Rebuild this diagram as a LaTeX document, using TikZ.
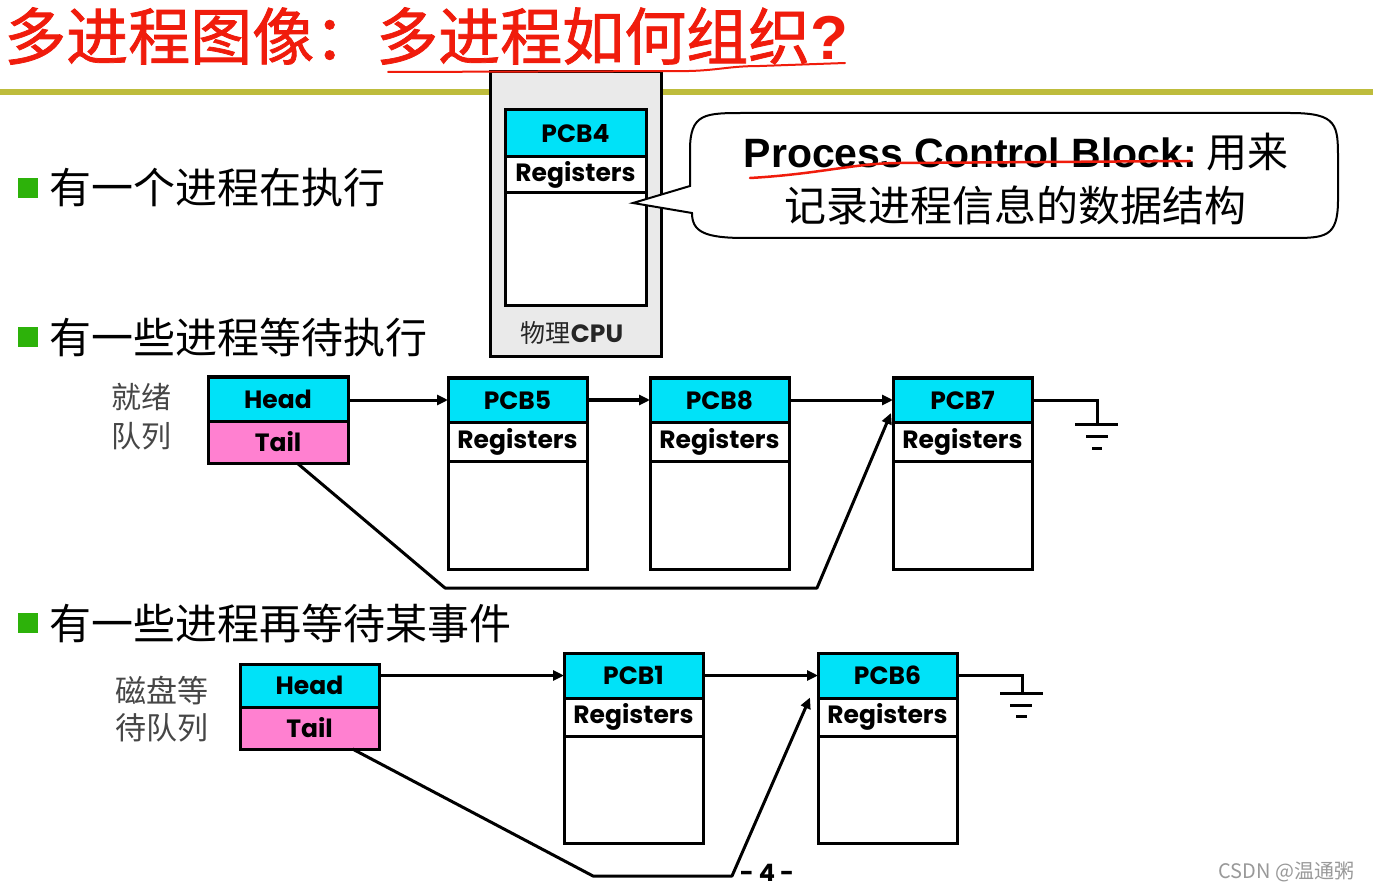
\documentclass[tikz,border=0pt]{standalone}
\usepackage{fontspec}
\usetikzlibrary{arrows.meta,calc}
\newfontfamily\cjk{Noto Sans CJK SC}
\newfontfamily\cjktitle[FakeBold=1.2]{Noto Sans CJK SC}
\newfontfamily\gothic{Poppins}
\newfontfamily\arialf{Liberation Sans}
\definecolor{titlered}{RGB}{240,28,12}
\definecolor{olive}{RGB}{190,188,60}
\definecolor{cellcyan}{RGB}{0,226,248}
\definecolor{cellpink}{RGB}{255,128,208}
\definecolor{bulletgreen}{RGB}{45,178,10}
\definecolor{cpugray}{RGB}{234,234,234}
\definecolor{labelgray}{RGB}{70,70,70}
\newcommand\pcbnode[8]{%
  \node[hdr, minimum width=#5, minimum height=#6] (#1) at (#3,#4) {#2};
  \node[regs, minimum width=#5, minimum height=#7, anchor=north] (#1r) at (#1.south) {Registers};
  \node[bodyc, minimum width=#5, minimum height=#8, anchor=north] (#1b) at (#1r.south) {};
}
\begin{document}
\begin{tikzpicture}[x=1pt,y=-1pt,
  cellbox/.style={draw, line width=3pt, inner sep=0pt, outer sep=0pt, anchor=north west},
  hdr/.style={cellbox, fill=cellcyan, font=\gothic\bfseries\fontsize{25}{27}\selectfont},
  tailc/.style={cellbox, fill=cellpink, font=\gothic\bfseries\fontsize{25}{27}\selectfont},
  regs/.style={cellbox, fill=white, font=\gothic\bfseries\fontsize{25}{27}\selectfont},
  bodyc/.style={cellbox, fill=white},
  conn/.style={line width=3pt},
  arr/.style={line width=3pt, -{Triangle[length=11pt,width=10pt]}},
  bullettext/.style={anchor=west, font=\cjk\fontsize{42}{44}\selectfont, text=black},
  bulletbox/.style={fill=bulletgreen, minimum size=20pt, inner sep=0pt},
  qlabel/.style={align=center, text=labelgray},
  strike/.style={titlered, line width=2.5pt, line cap=round}
]
\useasboundingbox (0,0) rectangle (1373,890);
\fill[white] (0,0) rectangle (1373,890);

% title
\node[anchor=west, inner sep=0pt, text=titlered, font=\cjktitle\fontsize{62}{64}\selectfont] (title) at (4,36) {多进程图像：多进程如何组织{\arialf\bfseries ?}};
% olive rule
\fill[olive] (0,89) rectangle (1373,95);

% bullets
\node[bulletbox] (b1) at (28,188) {};
\node[bullettext] (t1) at (46,188) {有一个进程在执行};
\node[bulletbox] (b2) at (28,337) {};
\node[bullettext] (t2) at (46,337) {有一些进程等待执行};
\node[bulletbox] (b3) at (28,623) {};
\node[bullettext] (t3) at (46,623) {有一些进程再等待某事件};

% CPU box
\node[draw, line width=3pt, fill=cpugray, minimum width=171pt, minimum height=285pt, inner sep=0pt, outer sep=0pt, anchor=north west] (cpu) at (490,72) {};
\node[font=\cjk\fontsize{25}{27}\selectfont, text=black!85] (cpul) at (572,333) {物理{\gothic\bfseries CPU}};
\pcbnode{pcb4}{PCB4}{505}{110}{141pt}{47pt}{36pt}{113pt}

% callout
\coordinate (tip) at (633,203);
\draw[line width=2pt, fill=white] (tip) -- (690,186) -- (690,150)
  .. controls (690,113) and (705,113) .. (745,113) -- (1290,113)
  .. controls (1338,113) and (1338,125) .. (1338,160) -- (1338,200)
  .. controls (1338,238) and (1325,238) .. (1290,238) -- (745,238)
  .. controls (705,238) and (692,232) .. (692,213) -- cycle;
\node[font=\arialf\bfseries\fontsize{41}{44}\selectfont, inner sep=0pt] (pcbdef1) at (1016,152) {Process Control Block:{\cjk\mdseries\ 用来}};
\node[font=\cjk\fontsize{42}{44}\selectfont, inner sep=0pt] (pcbdef2) at (1015,205) {记录进程信息的数据结构};
\draw[strike] (750,178) .. controls (820,174) and (855,163) .. (900,163) -- (1190,161);

% ready queue
\node[qlabel, font=\cjk\fontsize{30}{39}\selectfont] (rl) at (141,417) {就绪\\队列};
\node[hdr, minimum width=140pt, minimum height=44pt] (rh) at (208,377) {Head};
\node[tailc, minimum width=140pt, minimum height=42pt, anchor=north] (rt) at (rh.south) {Tail};
\pcbnode{pcb5}{PCB5}{448}{378}{139pt}{44pt}{39pt}{108pt}
\pcbnode{pcb8}{PCB8}{650}{378}{139pt}{44pt}{39pt}{108pt}
\pcbnode{pcb7}{PCB7}{893}{378}{139pt}{44pt}{39pt}{108pt}
\draw[arr] (rh.east |- pcb5.west) -- (pcb5.west);
\draw[arr, line width=4pt] (pcb5.east) -- (pcb8.west);
\draw[arr] (pcb8.east) -- (pcb7.west);
\coordinate (rt1) at (445,588);
\coordinate (rt2) at (817,588);
\draw[arr, line join=round] ([xshift=19pt]rt.south) -- (rt1) -- (rt2) -- ([xshift=-2pt,yshift=-13pt]pcb7.west);
\coordinate (g1) at (1097,424);
\draw[conn] (pcb7.east) -| (g1);
\draw[conn] (1075,424) -- (1118,424);
\draw[conn] (1086,436) -- (1108,436);
\draw[conn] (1092,448) -- (1102,448);

% disk queue
\node[qlabel, font=\cjk\fontsize{31}{37}\selectfont] (dl) at (162,709) {磁盘等\\待队列};
\node[hdr, minimum width=139pt, minimum height=43pt] (dh) at (240,664) {Head};
\node[tailc, minimum width=139pt, minimum height=42pt, anchor=north] (dt) at (dh.south) {Tail};
\pcbnode{pcb1}{PCB1}{564}{653}{139pt}{45pt}{38pt}{107pt}
\pcbnode{pcb6}{PCB6}{818}{653}{139pt}{45pt}{38pt}{107pt}
\draw[arr] (dh.east |- pcb1.west) -- (pcb1.west);
\draw[arr] (pcb1.east) -- (pcb6.west);
\coordinate (dt1) at (593,876);
\coordinate (dt2) at (732,876);
\draw[arr, line join=round] ([xshift=43pt]dt.south) -- (dt1) -- (dt2) -- ([xshift=-8pt,yshift=-22pt]pcb6.west);
\coordinate (g2) at (1022,693);
\draw[conn] (pcb6.east) -| (g2);
\draw[conn] (1000,693) -- (1043,693);
\draw[conn] (1010,705) -- (1032,705);
\draw[conn] (1016,716) -- (1027,716);

% page number and watermark
\node[font=\gothic\bfseries\fontsize{24}{26}\selectfont] (pg) at (767,873) {- 4 -};
\node[anchor=east, text=black!40, font=\cjk\fontsize{20}{22}\selectfont] (wm) at (1358,872) {CSDN @温通粥};

% red underline over title
\draw[titlered, line width=2pt, line cap=round] (388,72) -- (690,71) .. controls (720,70) and (730,66) .. (760,66) -- (845,63);
\end{tikzpicture}
\end{document}
